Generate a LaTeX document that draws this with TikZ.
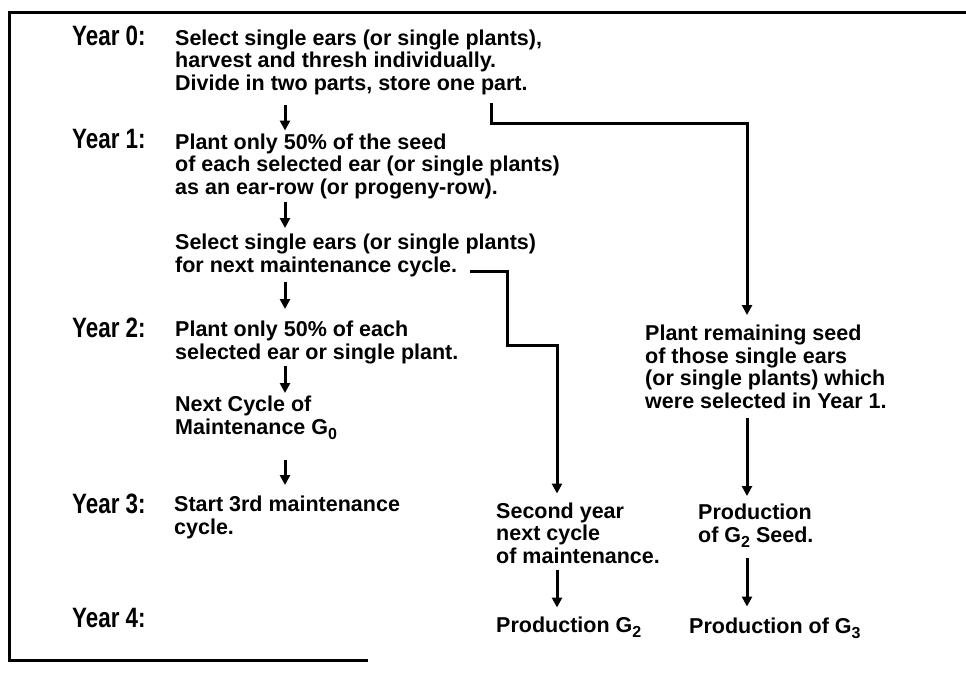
\documentclass[tikz,border=0pt]{standalone}
\usepackage{fontspec}
\setmainfont{Liberation Sans}
\newfontfamily\yearfont{Liberation Sans}[FakeStretch=0.8]
\usetikzlibrary{arrows.meta}
\newcommand{\lowsub}[1]{\raisebox{-0.5ex}{\fontsize{16}{16}\selectfont #1}}
\begin{document}
\begin{tikzpicture}[x=1pt,y=1pt,
  txt/.style={anchor=base west, inner sep=0pt, align=left,
              font=\fontsize{21.5}{22.5}\selectfont\bfseries},
  yr/.style={anchor=base west, inner sep=0pt,
             font=\yearfont\fontsize{28}{28}\selectfont\bfseries},
  arr/.style={line width=3pt, -{Triangle[length=10pt,width=10pt]}},
  frame/.style={line width=3pt}]
\useasboundingbox (0,0) rectangle (966,-672);
\fill[white] (0,0) rectangle (966,-672);
% frame
\draw[frame] (368,-660) -- (9,-660) -- (9,-12) -- (966,-12);
% arrow columns
\coordinate (ax) at (285,0);
\coordinate (bx) at (557,0);
\coordinate (cx) at (747,0);
% year labels
\node[yr] (Y0) at (72,-45) {Year 0:};
\node[yr] (Y1) at (72,-148) {Year 1:};
\node[yr] (Y2) at (72,-337) {Year 2:};
\node[yr] (Y3) at (72,-513) {Year 3:};
\node[yr] (Y4) at (72,-627) {Year 4:};
% texts (anchored at the baseline of their last line)
\node[txt] (y0t) at (175,-90) {Select single ears (or single plants),\\harvest and thresh individually.\\Divide in two parts, store one part.};
\node[txt] (y1t) at (175,-194) {Plant only 50\% of the seed\\of each selected ear (or single plants)\\as an ear-row (or progeny-row).};
\node[txt] (sel) at (175,-272) {Select single ears (or single plants)\\for next maintenance cycle.};
\node[txt] (y2t) at (175,-359) {Plant only 50\% of each\\selected ear or single plant.};
\node[txt] (nxt) at (175,-434) {Next Cycle of\\Maintenance G\lowsub{0}};
\node[txt] (y3t) at (174,-534) {Start 3rd maintenance\\cycle.};
\node[txt] (sec) at (496,-563) {Second year\\next cycle\\of maintenance.};
\node[txt] (pg2) at (496,-632) {Production G\lowsub{2}};
\node[txt] (prt) at (645,-408) {Plant remaining seed\\of those single ears\\(or single plants) which\\were selected in Year 1.};
\node[txt] (pgs) at (698,-542) {Production\\of G\lowsub{2} Seed.};
\node[txt] (pg3) at (689,-633) {Production of G\lowsub{3}};
% connectors
\draw[arr, shorten <=10.6pt, shorten >=2.7pt] (y0t.south -| ax) -- (y1t.north -| ax);
\draw[arr, shorten <=3.6pt, shorten >=5.7pt] (y1t.south -| ax) -- (sel.north -| ax);
\draw[arr, shorten <=5.6pt, shorten >=11.7pt] (sel.south -| ax) -- (y2t.north -| ax);
\draw[arr, shorten <=2.6pt, shorten >=2.7pt] (y2t.south -| ax) -- (nxt.north -| ax);
\draw[arr, shorten <=20pt, shorten >=10.7pt] (nxt.south -| ax) -- (y3t.north -| ax);
\draw[arr, shorten >=8.7pt] ([xshift=295pt,yshift=5.4pt]sel.south west) -- ++(37,0) -- ++(0,-74) -- ++(50,0) -- (sec.north -| bx);
\draw[arr, shorten >=9.7pt] ([xshift=316pt,yshift=-8.6pt]y0t.south west) -- ++(0,-20) -| (prt.north -| cx);
\draw[arr, shorten <=7pt, shorten >=8.7pt] (sec.south -| bx) -- (pg2.north -| bx);
\draw[arr, shorten <=10pt, shorten >=7.7pt] (prt.south -| cx) -- (pgs.north -| cx);
\draw[arr, shorten <=10pt, shorten >=10.7pt] (pgs.south -| cx) -- (pg3.north -| cx);
\end{tikzpicture}
\end{document}
